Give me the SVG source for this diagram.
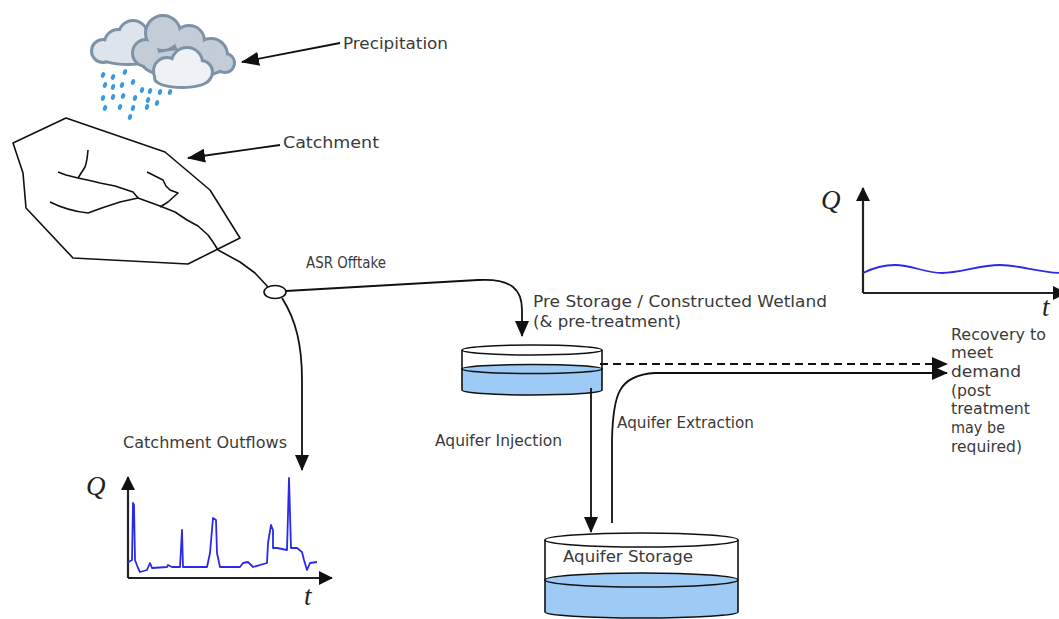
<svg xmlns="http://www.w3.org/2000/svg" width="1059" height="619" viewBox="0 0 1059 619">
  <style>
    .lbl { font-family: "DejaVu Sans", "Liberation Sans", sans-serif; font-size: 15px; fill: #3a3a3a; }
    .axlbl { font-family: "Liberation Serif", "DejaVu Serif", serif; font-style: italic; font-size: 27px; fill: #222; }
    .ln { fill: none; stroke: #111; stroke-width: 1.8; }
    .dash { fill: none; stroke: #111; stroke-width: 1.8; stroke-dasharray: 8 5; }
    .ax { fill: none; stroke: #222; stroke-width: 2.2; }
    .stream { fill: none; stroke: #111; stroke-width: 1.6; stroke-linejoin: round; }
    .flow { fill: none; stroke: #2a2ae8; stroke-width: 1.8; stroke-linejoin: round; }
    .tank { fill: none; stroke: #111; stroke-width: 1.6; }
    .water { fill: #9dcbf6; }
    .cloudEdge { stroke: #7d92a6; stroke-width: 6; }
    .drop { fill: #3b99e0; }
  </style>
  <defs>
    <marker id="arr" viewBox="0 0 16 14" refX="15" refY="7" markerWidth="16" markerHeight="14" orient="auto" markerUnits="userSpaceOnUse">
      <path d="M0,0 L16,7 L0,14 Z" fill="#111"/>
    </marker>
    <marker id="arrBig" viewBox="0 0 18 14" refX="17" refY="7" markerWidth="18" markerHeight="14" orient="auto" markerUnits="userSpaceOnUse">
      <path d="M0,0 L18,7 L0,14 Z" fill="#111"/>
    </marker>
    <marker id="axArr" viewBox="0 0 14 14" refX="13" refY="7" markerWidth="14" markerHeight="14" orient="auto" markerUnits="userSpaceOnUse">
      <path d="M0,0 L14,7 L0,14 Z" fill="#111"/>
    </marker>
  </defs>

  <!-- rain clouds -->
  <g id="precipitation-cloud">
    <!-- left cloud -->
    <g class="cloudEdge" fill="#7d92a6">
      <circle cx="103" cy="51" r="10"/><circle cx="118" cy="43" r="12"/><circle cx="133" cy="35" r="13"/>
      <circle cx="149" cy="43" r="11"/><circle cx="156" cy="54" r="8"/><ellipse cx="128" cy="55" rx="28" ry="8"/>
    </g>
    <g fill="#dde4ec">
      <circle cx="103" cy="51" r="10"/><circle cx="118" cy="43" r="12"/><circle cx="133" cy="35" r="13"/>
      <circle cx="149" cy="43" r="11"/><circle cx="156" cy="54" r="8"/><ellipse cx="128" cy="55" rx="28" ry="8"/>
    </g>
    <!-- middle cloud -->
    <g class="cloudEdge" fill="#7d92a6">
      <circle cx="163" cy="33" r="16"/><circle cx="146" cy="53" r="12"/><circle cx="189" cy="41" r="14"/>
      <circle cx="211" cy="55" r="15"/><circle cx="225" cy="63" r="8"/><ellipse cx="185" cy="63" rx="41" ry="13"/>
    </g>
    <g fill="#c3cdd8">
      <circle cx="163" cy="33" r="16"/><circle cx="146" cy="53" r="12"/><circle cx="189" cy="41" r="14"/>
      <circle cx="211" cy="55" r="15"/><circle cx="225" cy="63" r="8"/><ellipse cx="185" cy="63" rx="41" ry="13"/>
    </g>
    <!-- front cloud -->
    <g class="cloudEdge" fill="#7d92a6">
      <circle cx="167" cy="71" r="12"/><circle cx="187" cy="63" r="14"/><circle cx="201" cy="72" r="10"/>
      <ellipse cx="182" cy="78" rx="26" ry="8"/>
    </g>
    <g fill="#eef2f6">
      <circle cx="167" cy="71" r="12"/><circle cx="187" cy="63" r="14"/><circle cx="201" cy="72" r="10"/>
      <ellipse cx="182" cy="78" rx="26" ry="8"/>
    </g>
    <!-- rain drops -->
    <g class="drop">
      <ellipse cx="103" cy="75" rx="2" ry="3" transform="rotate(20 103 75)"/>
      <ellipse cx="113" cy="77" rx="2" ry="3" transform="rotate(20 113 77)"/>
      <ellipse cx="125" cy="72" rx="2" ry="3" transform="rotate(20 125 72)"/>
      <ellipse cx="105" cy="85" rx="2" ry="3" transform="rotate(20 105 85)"/>
      <ellipse cx="113" cy="87" rx="2" ry="3" transform="rotate(20 113 87)"/>
      <ellipse cx="122" cy="85" rx="2" ry="3" transform="rotate(20 122 85)"/>
      <ellipse cx="133" cy="82" rx="2" ry="3" transform="rotate(20 133 82)"/>
      <ellipse cx="142" cy="90" rx="2" ry="3" transform="rotate(20 142 90)"/>
      <ellipse cx="150" cy="91" rx="2" ry="3" transform="rotate(20 150 91)"/>
      <ellipse cx="160" cy="92" rx="2" ry="3" transform="rotate(20 160 92)"/>
      <ellipse cx="170" cy="92" rx="2" ry="3" transform="rotate(20 170 92)"/>
      <ellipse cx="103" cy="98" rx="2" ry="3" transform="rotate(20 103 98)"/>
      <ellipse cx="113" cy="97" rx="2" ry="3" transform="rotate(20 113 97)"/>
      <ellipse cx="123" cy="96" rx="2" ry="3" transform="rotate(20 123 96)"/>
      <ellipse cx="135" cy="98" rx="2" ry="3" transform="rotate(20 135 98)"/>
      <ellipse cx="148" cy="100" rx="2" ry="3" transform="rotate(20 148 100)"/>
      <ellipse cx="105" cy="108" rx="2" ry="3" transform="rotate(20 105 108)"/>
      <ellipse cx="120" cy="107" rx="2" ry="3" transform="rotate(20 120 107)"/>
      <ellipse cx="133" cy="108" rx="2" ry="3" transform="rotate(20 133 108)"/>
      <ellipse cx="147" cy="107" rx="2" ry="3" transform="rotate(20 147 107)"/>
      <ellipse cx="157" cy="103" rx="2" ry="3" transform="rotate(20 157 103)"/>
      <ellipse cx="130" cy="117" rx="2" ry="3" transform="rotate(20 130 117)"/>
    </g>
  </g>

  <!-- catchment outline with its stream network -->
  <g id="catchment">
    <polygon points="13,143 66,118 165,152 210,190 240,238 188,264 73,258 26,208 23,173" class="stream" fill="none"/>
    <path class="stream" d="M50,202 Q68,211 88,213 Q104,207 120,202 L138,198 L160,206 L175,212 L187,220 L198,226 L208,235 L213,242 L218,250"/>
    <path class="stream" d="M58,172 L66,175 L78,178 L92,181 L100,183 L115,186 L127,190 L133,192 L138,198"/>
    <path class="stream" d="M88,150 Q87,162 85,167 L78,178"/>
    <path class="stream" d="M147,172 L155,176 L163,180 L166,186 L170,190 L178,193 L168,202 L160,207"/>
  </g>

  <!-- offtake junction -->
  <g id="junction">
    <ellipse cx="275" cy="292" rx="11" ry="6.5" fill="#fff" stroke="#111" stroke-width="1.6"/>
  </g>

  <!-- pre storage / constructed wetland tank -->
  <g id="pre-storage">
    <path class="water" d="M462,369 L462,390 A70,5 0 0 0 602,390 L602,369 Z"/>
    <line class="tank" x1="462" y1="350" x2="462" y2="390"/>
    <line class="tank" x1="602" y1="350" x2="602" y2="390"/>
    <path class="tank" d="M462,390 A70,5 0 0 0 602,390"/>
    <ellipse cx="532" cy="369" rx="70" ry="4.5" fill="#9dcbf6" stroke="#111" stroke-width="1.6"/>
    <ellipse cx="532" cy="350" rx="70" ry="5" fill="#fff" stroke="#111" stroke-width="1.6"/>
  </g>

  <!-- aquifer storage tank -->
  <g id="aquifer-storage">
    <path class="water" d="M545,580 L545,612 A96.5,6 0 0 0 738,612 L738,580 Z"/>
    <line class="tank" x1="545" y1="540" x2="545" y2="612"/>
    <line class="tank" x1="738" y1="540" x2="738" y2="612"/>
    <path class="tank" d="M545,612 A96.5,6 0 0 0 738,612"/>
    <ellipse cx="641.5" cy="580" rx="96.5" ry="7" fill="#9dcbf6" stroke="#111" stroke-width="1.6"/>
    <ellipse cx="641.5" cy="540" rx="96.5" ry="7" fill="#fff" stroke="#111" stroke-width="1.6"/>
    <text class="lbl" x="563" y="562" textLength="130" lengthAdjust="spacingAndGlyphs">Aquifer Storage</text>
  </g>

  <!-- catchment outflow hydrograph -->
  <g id="outflow-graph">
    <path class="ax" d="M128,578 L128,477" marker-end="url(#axArr)"/>
    <path class="ax" d="M128,578 L332,578" marker-end="url(#axArr)"/>
    <text class="axlbl" x="86" y="495">Q</text>
    <text class="axlbl" x="304" y="605">t</text>
    <path class="flow" d="M127,563 L132,560 L133,503 L134,505 L135,560 L138,568 L140,572 L147,570 L150,563 L152,568 L167,567 L168,565 L172,567 L180,567 L182,530 L183,567 L207,567 L210,553 L213,518 L216,520 L217,553 L220,567 L240,567 L243,563 L248,562 L253,567 L267,563 L268,543 L271,525 L273,530 L273,548 L277,548 L287,550 L289,478 L291,548 L297,548 L302,552 L304,560 L307,570 L310,563 L317,562"/>
  </g>

  <!-- recovery demand graph -->
  <g id="demand-graph">
    <path class="ax" d="M863,293 L863,188" marker-end="url(#axArr)"/>
    <path class="ax" d="M863,293 L1066,293" marker-end="url(#axArr)"/>
    <text class="axlbl" x="821" y="209">Q</text>
    <text class="axlbl" x="1042" y="316">t</text>
    <path class="flow" d="M863,273 C875,267 885,265 895,265 C912,265 925,273 942,273 C960,273 980,265 1000,265 C1020,265 1040,273 1062,273"/>
  </g>

  <!-- connectors -->
  <g id="connectors">
    <path class="ln" d="M340,43 L242,62" marker-end="url(#arrBig)"/>
    <path class="ln" d="M280,145 L188,158" marker-end="url(#arrBig)"/>
    <path class="stream" d="M218,250 L240,262 L255,273 L268,287"/>
    <path class="ln" d="M286,291 L478,280 C512,278 522,290 522,310 L522,336" marker-end="url(#arr)"/>
    <path class="ln" d="M282,298 C296,320 302,345 302,380 L302,470" marker-end="url(#arr)"/>
    <path class="ln" d="M591,388 L591,532" marker-end="url(#arr)"/>
    <path class="ln" d="M612,523 L612,440 C613,395 618,375 655,373 L947,373" marker-end="url(#arr)"/>
    <path class="dash" d="M600,364 L947,364" marker-end="url(#arr)"/>
  </g>

  <!-- labels -->
  <g id="labels">
    <text class="lbl" x="343" y="49" textLength="105" lengthAdjust="spacingAndGlyphs">Precipitation</text>
    <text class="lbl" x="283" y="148" textLength="96" lengthAdjust="spacingAndGlyphs">Catchment</text>
    <text class="lbl" x="306" y="268" textLength="80" lengthAdjust="spacingAndGlyphs">ASR Offtake</text>
    <text class="lbl" x="533" y="307" textLength="294" lengthAdjust="spacingAndGlyphs">Pre Storage / Constructed Wetland</text>
    <text class="lbl" x="533" y="327" textLength="148" lengthAdjust="spacingAndGlyphs">(&amp; pre-treatment)</text>
    <text class="lbl" x="123" y="448" textLength="164" lengthAdjust="spacingAndGlyphs">Catchment Outflows</text>
    <text class="lbl" x="435" y="446" textLength="127" lengthAdjust="spacingAndGlyphs">Aquifer Injection</text>
    <text class="lbl" x="617" y="428" textLength="137" lengthAdjust="spacingAndGlyphs">Aquifer Extraction</text>
    <text class="lbl" x="951" y="340" textLength="95" lengthAdjust="spacingAndGlyphs">Recovery to</text>
    <text class="lbl" x="951" y="358" textLength="42" lengthAdjust="spacingAndGlyphs">meet</text>
    <text class="lbl" x="951" y="377" textLength="70" lengthAdjust="spacingAndGlyphs">demand</text>
    <text class="lbl" x="951" y="396" textLength="40" lengthAdjust="spacingAndGlyphs">(post</text>
    <text class="lbl" x="951" y="414" textLength="79" lengthAdjust="spacingAndGlyphs">treatment</text>
    <text class="lbl" x="951" y="433" textLength="54" lengthAdjust="spacingAndGlyphs">may be</text>
    <text class="lbl" x="951" y="452" textLength="71" lengthAdjust="spacingAndGlyphs">required)</text>
  </g>
</svg>
